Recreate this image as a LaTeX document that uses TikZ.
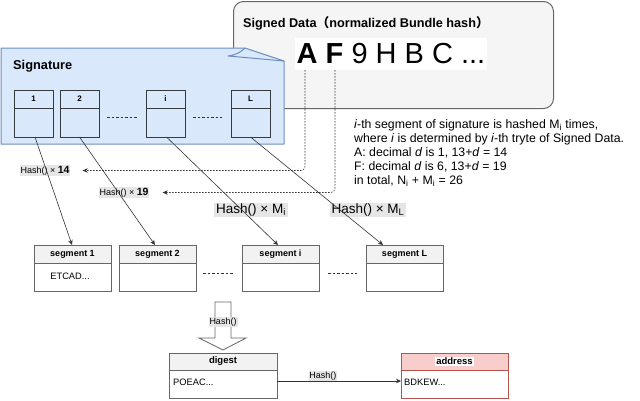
\documentclass[tikz,border=0pt]{standalone}
\usepackage{fontspec}
\setmainfont{Liberation Sans}
\newfontfamily\cjk{Noto Sans CJK SC}
\usetikzlibrary{arrows.meta}
\definecolor{sdfill}{HTML}{F5F5F5}
\definecolor{sdstroke}{HTML}{666666}
\definecolor{sigfill}{HTML}{DAE8FC}
\definecolor{sigstroke}{HTML}{6C8EBF}
\definecolor{sigdark}{HTML}{36393D}
\definecolor{hdrfill}{HTML}{F2F2F2}
\definecolor{boxstroke}{HTML}{666666}
\definecolor{redfill}{HTML}{F8CECC}
\definecolor{redstroke}{HTML}{B85450}
\definecolor{lblbg}{HTML}{E6E6E6}
\definecolor{linec}{HTML}{333333}
\begin{document}
\begin{tikzpicture}[x=1pt,y=-1pt,
  box/.style={draw=boxstroke, fill=white, line width=0.8pt, inner sep=0pt, outer sep=0pt, anchor=north west},
  hdr/.style={draw=boxstroke, fill=hdrfill, line width=0.8pt, inner sep=0pt, outer sep=0pt, anchor=north west, font=\fontsize{9}{10}\selectfont\bfseries},
  sbox/.style={draw=sigdark, fill=sigfill, line width=0.8pt, inner sep=0pt, outer sep=0pt, anchor=north west, minimum width=39pt, minimum height=47pt},
  shdr/.style={draw=sigdark, fill=sigfill, line width=0.8pt, inner sep=0pt, outer sep=0pt, anchor=north west, minimum width=39pt, minimum height=18pt, font=\fontsize{8}{9}\selectfont\bfseries},
  lbl/.style={fill=lblbg, inner sep=1pt, font=\fontsize{9}{10}\selectfont},
  lblbig/.style={fill=lblbg, inner xsep=2pt, inner ysep=1pt, font=\fontsize{13.5}{15}\selectfont},
  conn/.style={draw=linec, line width=0.6pt, -{Stealth[length=5pt,width=4.5pt]}},
  dotconn/.style={draw=linec, line width=0.6pt, dash pattern=on 1.5pt off 1.5pt, rounded corners=4pt, -{Stealth[length=5pt,width=4.5pt]}},
  gapline/.style={draw=linec, line width=0.6pt, dash pattern=on 2.5pt off 2pt},
  txt/.style={inner sep=0pt, font=\fontsize{9.3}{11}\selectfont}
]
\useasboundingbox (0,0) rectangle (640,400);

% Signed Data box
\node[draw=sdstroke, fill=sdfill, rounded corners=10pt, line width=1pt, inner sep=0pt,
      minimum width=320pt, minimum height=107pt, anchor=north west] (sd) at (233,1) {};
\node[anchor=west, inner sep=0pt, font=\fontsize{12.7}{14}\selectfont\bfseries] (sdtitle) at (243,23)
  {Signed Data{\cjk（}normalized Bundle hash{\cjk）}};
\node[fill=white, inner xsep=2pt, inner ysep=0pt, minimum height=32pt, font=\fontsize{29}{32}\selectfont] (big) at (391,54)
  {\textbf{A} \textbf{F} 9 H B C ...};
\coordinate (cA) at (305,70);
\coordinate (cF) at (335,70);

% Signature shape
\filldraw[fill=sigfill, draw=sigstroke, line width=1pt, line join=round]
  (1,48) -- (245,48) -- (284,61) -- (284,144) -- (1,144) -- cycle;
\draw[sigstroke, line width=1pt, line join=round] (284,61) -- (228,56) .. controls (236,55) and (241,52) .. (245,48);
\node[anchor=west, inner sep=0pt, font=\fontsize{12.8}{14}\selectfont\bfseries] (sigtitle) at (13,66) {Signature};

% signature elements
\node[sbox] (b1) at (14,90) {};
\node[shdr] (b1h) at (14,90) {1};
\node[sbox] (b2) at (60,90) {};
\node[shdr] (b2h) at (60,90) {2};
\node[sbox] (bi) at (146,90) {};
\node[shdr] (bih) at (146,90) {i};
\node[sbox] (bL) at (231,90) {};
\node[shdr] (bLh) at (231,90) {L};
\draw[gapline] ([xshift=8pt,yshift=-4pt]b2.east) -- ([xshift=-9pt,yshift=-4pt]bi.west);
\draw[gapline] ([xshift=8pt,yshift=-4pt]bi.east) -- ([xshift=-9pt,yshift=-4pt]bL.west);

% explanation text
\node[anchor=north west, align=left, inner sep=0pt, font=\fontsize{12.3}{14}\selectfont] (expl) at (354,119)
  {\textit{i}-th segment of signature is hashed M\textsubscript{i} times,\\
   where \textit{i} is determined by \textit{i}-th tryte of Signed Data.\\
   A: decimal \textit{d} is 1, 13+\textit{d} = 14\\
   F: decimal \textit{d} is 6, 13+\textit{d} = 19\\
   in total, N\textsubscript{i} + M\textsubscript{i} = 26};

% labels
\node[lbl] (l14) at (45,170.5) {Hash() × \textbf{\fontsize{10.5}{11}\selectfont 14}};
\node[lbl] (l19) at (124,192.5) {Hash() × \textbf{\fontsize{10.5}{11}\selectfont 19}};
\node[lblbig] (lMi) at (251,210) {Hash() × M\textsubscript{i}};
\node[lblbig] (lML) at (368,210) {Hash() × M\textsubscript{L}};

% segments
\node[box, minimum width=77pt, minimum height=46pt] (s1) at (34,245) {};
\node[hdr, minimum width=77pt, minimum height=18pt] (s1h) at (34,245) {segment 1};
\node[txt] (s1t) at (70,276) {ETCAD...};
\node[box, minimum width=77pt, minimum height=46pt] (s2) at (119,245) {};
\node[hdr, minimum width=77pt, minimum height=18pt] (s2h) at (119,245) {segment 2};
\node[box, minimum width=77pt, minimum height=46pt] (si) at (242,245) {};
\node[hdr, minimum width=77pt, minimum height=18pt] (sih) at (242,245) {segment i};
\node[box, minimum width=77pt, minimum height=46pt] (sL) at (366,245) {};
\node[hdr, minimum width=77pt, minimum height=18pt] (sLh) at (366,245) {segment L};
\draw[gapline] ([xshift=7pt,yshift=-5pt]s2.east) -- ([xshift=-9pt,yshift=-5pt]si.west);
\draw[gapline] ([xshift=9pt,yshift=-5pt]si.east) -- ([xshift=-9pt,yshift=-5pt]sL.west);

% connectors
\draw[dotconn, shorten >=12pt] (cA) |- (l14.east);
\draw[dotconn, shorten >=13pt] (cF) |- (l19.east);
\draw[conn] ([xshift=1.5pt]b1.south) -- ([xshift=-0.5pt]s1.north);
\draw[conn] (b2.south) -- ([xshift=-2.5pt]s2.north);
\draw[conn] ([xshift=1pt]bi.south) -- ([xshift=-2.5pt]si.north);
\draw[conn] (bL.south) -- ([xshift=17pt]sL.north west);

% block arrow
\filldraw[fill=white, draw=sdstroke, line width=0.8pt, line join=miter]
  (215,302) -- (231,302) -- (231,338) -- (246,338) -- (223,350) -- (199,338) -- (215,338) -- cycle;
\node[lbl] (lh) at (223,322) {Hash()};

% digest and address
\node[box, minimum width=108pt, minimum height=45pt] (dg) at (169,353) {};
\node[hdr, minimum width=108pt, minimum height=17pt, font=\fontsize{9.5}{10}\selectfont\bfseries] (dgh) at (169,353) {digest};
\node[txt, anchor=west] (dgt) at (173,382) {POEAC...};
\node[box, draw=redstroke, minimum width=107pt, minimum height=45pt] (ad) at (401,353) {};
\node[hdr, draw=redstroke, fill=redfill, minimum width=107pt, minimum height=17pt, font=\fontsize{9.5}{10}\selectfont\bfseries] (adh) at (401,353) {};
\node[fill=white, inner xsep=1pt, inner ysep=1pt, font=\fontsize{9.5}{10}\selectfont\bfseries] (adht) at (adh.center) {address};
\node[txt, anchor=west] (adt) at (404,382) {BDKEW...};
\draw[conn] ([yshift=-5.5pt]dg.east) -- node[lbl, fill=lblbg, anchor=south, pos=0.37, inner sep=0.5pt] (lh2) {Hash()} ([yshift=-5.5pt]ad.west);
\end{tikzpicture}
\end{document}
